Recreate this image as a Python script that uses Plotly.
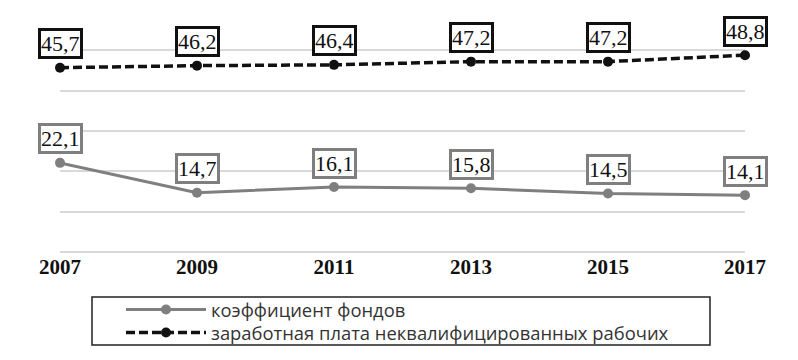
import plotly.graph_objects as go

years = [2007, 2009, 2011, 2013, 2015, 2017]
year_labels = ["2007", "2009", "2011", "2013", "2015", "2017"]
fund_coef = [22.1, 14.7, 16.1, 15.8, 14.5, 14.1]
wage_unskilled = [45.7, 46.2, 46.4, 47.2, 47.2, 48.8]
name_fund = "коэффициент фондов"
name_wage = "заработная плата неквалифицированных рабочих"

GRAY = "#7f7f7f"
BLACK = "#111111"

fig = go.Figure()
fig.add_trace(go.Scatter(
    x=years, y=fund_coef, name=name_fund, mode="lines+markers",
    line=dict(color=GRAY, width=3), marker=dict(color=GRAY, size=10),
    cliponaxis=False, legend="legend",
))
fig.add_trace(go.Scatter(
    x=years, y=wage_unskilled, name=name_wage, mode="lines+markers",
    line=dict(color=BLACK, width=3.5, dash="9px,4px"), marker=dict(color=BLACK, size=10),
    cliponaxis=False, legend="legend2",
))

def fmt(v):
    return f"{v:.1f}".replace(".", ",")

annotations = []
for xs, ys, bc in [(years, fund_coef, GRAY), (years, wage_unskilled, BLACK)]:
    for xv, yv in zip(xs, ys):
        annotations.append(dict(
            x=xv, y=yv, xref="x", yref="y", text=fmt(yv), showarrow=False,
            yshift=24, yanchor="middle", xanchor="center",
            font=dict(family="Liberation Serif", size=22, color="#111111"),
            bgcolor="white", bordercolor=bc, borderwidth=3, borderpad=0,
        ))

# page body has an 8px margin; work in screen pixels and convert
OFF = 8
W, H = 798 - OFF, 360 - OFF
L = 60 - OFF
R = W - (745 - OFF)
T = 10 - OFF
B = H - (252 - OFF)
pw = W - L - R
ph = H - T - B

def px_x(p):
    return (p - OFF - L) / pw

def px_y(p):
    return (H - B - (p - OFF)) / ph

legend_common = dict(
    xanchor="left", yanchor="top", orientation="v", itemwidth=80,
    bgcolor="rgba(0,0,0,0)", font=dict(family="Open Sans", size=18.4, color="#333333"),
)

fig.update_layout(
    width=W, height=H,
    margin=dict(l=L, r=R, t=T, b=B, autoexpand=False),
    paper_bgcolor="white", plot_bgcolor="white",
    annotations=annotations,
    showlegend=True,
    legend=dict(x=px_x(121), y=px_y(291), **legend_common),
    legend2=dict(x=px_x(121), y=px_y(314), **legend_common),
    shapes=[dict(
        type="rect", xref="paper", yref="paper",
        x0=px_x(92), x1=px_x(710), y0=px_y(345), y1=px_y(297),
        line=dict(color="#222222", width=1.5), fillcolor="rgba(0,0,0,0)",
    )],
)
fig.update_xaxes(
    range=[2007, 2017], tickvals=years, ticktext=year_labels,
    showgrid=False, zeroline=False, showline=False,
    ticks="", ticklabelstandoff=0,
    tickfont=dict(family="Liberation Serif", size=21, color="#111111", weight="bold"),
)
fig.update_yaxes(
    range=[0, 60], dtick=10, showticklabels=False,
    showgrid=True, gridcolor="#d9d9d9", gridwidth=1.5,
    zeroline=True, zerolinecolor="#d9d9d9", zerolinewidth=1.5,
)

fig.write_html("out.html")
